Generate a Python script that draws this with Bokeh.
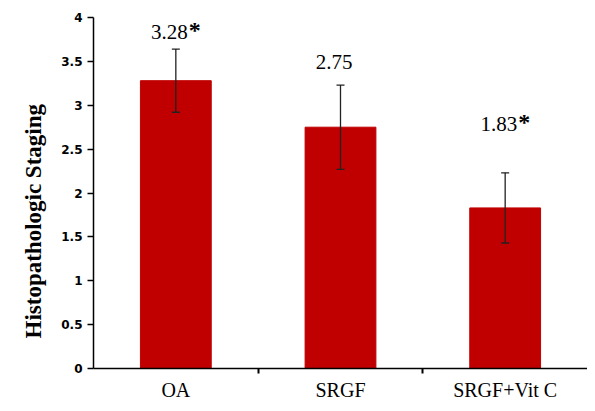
from bokeh.plotting import figure
from bokeh.models import ColumnDataSource, Whisker, TeeHead, FixedTicker, Range1d, Title
from bokeh.core.properties import value
from bokeh.embed import file_html
from bokeh.resources import INLINE

groups = ["OA", "SRGF", "SRGF+Vit C"]
means = [3.28, 2.75, 1.83]
errors = [0.36, 0.48, 0.40]
value_labels = ["3.28", "2.75", "1.83"]
star_labels = ["*", "", "*"]
label_y = [3.84, 3.49, 2.79]
y_ticks = [0, 0.5, 1, 1.5, 2, 2.5, 3, 3.5, 4]
y_tick_labels = ["0", "0.5", "1", "1.5", "2", "2.5", "3", "3.5", "4"]
y_title = "Histopathologic Staging"

xpos = [i + 0.5 for i in range(len(groups))]
src = ColumnDataSource(dict(
    x=xpos, top=means,
    upper=[m + e for m, e in zip(means, errors)],
    lower=[m - e for m, e in zip(means, errors)],
    lab=value_labels, star=star_labels, ly=label_y,
))

p = figure(width=587, height=403, output_backend="svg", toolbar_location=None,
           x_range=Range1d(0, len(groups)), y_range=Range1d(0, 4),
           min_border_left=93, min_border_right=0, min_border_top=17, min_border_bottom=33)
p.outline_line_color = None
p.xgrid.grid_line_color = None
p.ygrid.grid_line_color = None
p.background_fill_color = "white"
p.border_fill_color = "white"

p.vbar(x="x", top="top", width=0.43, bottom=0, source=src,
       fill_color="#C00000", line_color="#C00000")

w = Whisker(source=src, base="x", upper="upper", lower="lower", dimension="height",
            line_color="#222222", line_width=1.3, level="overlay",
            upper_head=TeeHead(size=8, line_color="#222222", line_width=1.3),
            lower_head=TeeHead(size=8, line_color="#222222", line_width=1.3))
p.add_layout(w)

p.text(x="x", y="ly", text="lab", source=src, text_align="right", text_baseline="alphabetic",
       x_offset=12, text_font=value("Liberation Serif"), text_font_size="21px", text_color="black")
p.text(x="x", y="ly", text="star", source=src, text_align="left", text_baseline="alphabetic",
       x_offset=13, y_offset=-2, text_font=value("Liberation Serif"), text_font_size="24px",
       text_font_style="bold", text_color="black")

# y-axis title
p.add_layout(Title(text=y_title, align="left", offset=30, standoff=26,
                   text_font="Liberation Serif", text_font_style="bold",
                   text_font_size="23px", text_color="black"), "left")

# x axis
p.xaxis.ticker = FixedTicker(ticks=xpos, minor_ticks=list(range(1, len(groups))))
p.xaxis.major_label_overrides = {x: g for x, g in zip(xpos, groups)}
p.xaxis.major_tick_out = 0
p.xaxis.major_tick_in = 0
p.xaxis.minor_tick_out = 5
p.xaxis.minor_tick_in = 0
p.xaxis.minor_tick_line_width = 2
p.xaxis.minor_tick_line_color = "black"
p.xaxis.axis_line_color = "black"
p.xaxis.axis_line_width = 1.5
p.xaxis.major_label_text_font = "Liberation Serif"
p.xaxis.major_label_text_font_size = "20px"
p.xaxis.major_label_text_color = "black"
p.xaxis.major_label_standoff = 5

# y axis
p.yaxis.ticker = FixedTicker(ticks=y_ticks, minor_ticks=[])
p.yaxis.major_label_overrides = {t: l for t, l in zip(y_ticks, y_tick_labels)}
p.yaxis.major_tick_out = 6
p.yaxis.major_tick_in = 0
p.yaxis.major_tick_line_width = 1.5
p.yaxis.major_tick_line_color = "black"
p.yaxis.axis_line_color = "black"
p.yaxis.axis_line_width = 1.5
p.yaxis.major_label_text_font = "DejaVu Sans"
p.yaxis.major_label_text_font_style = "bold"
p.yaxis.major_label_text_font_size = "12px"
p.yaxis.major_label_text_color = "black"
p.yaxis.major_label_standoff = 5

open("out.html", "w").write(file_html(p, INLINE))
